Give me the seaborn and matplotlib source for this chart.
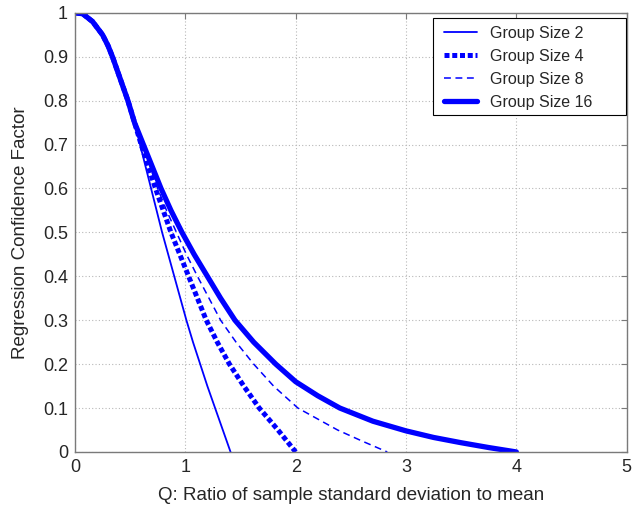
import pandas as pd
import seaborn as sns
import matplotlib.pyplot as plt
from matplotlib.patches import Rectangle

# values (Q, factor)
q_common = [0.0, 0.07, 0.16, 0.25, 0.30, 0.34, 0.41, 0.48, 0.54]
y_common = [1.0, 0.998, 0.98, 0.95, 0.925, 0.9, 0.85, 0.8, 0.75]

q_g2 = q_common + [0.59, 0.64, 0.69, 0.74, 0.79, 0.845, 0.90, 0.955, 1.01, 1.07,
                   1.135, 1.20, 1.27, 1.34, 1.41]
y_g2 = y_common + [0.7, 0.65, 0.6, 0.55, 0.5, 0.45, 0.4, 0.35, 0.3, 0.25,
                   0.2, 0.15, 0.1, 0.05, 0.0]

q_g4 = q_common + [0.60, 0.665, 0.73, 0.80, 0.87, 0.95, 1.03, 1.11, 1.19, 1.29,
                   1.40, 1.53, 1.67, 1.84, 2.0]
y_g4 = y_common + [0.7, 0.65, 0.6, 0.55, 0.5, 0.45, 0.4, 0.35, 0.3, 0.25,
                   0.2, 0.15, 0.1, 0.05, 0.0]

q_g8 = q_common + [0.61, 0.68, 0.75, 0.83, 0.92, 1.01, 1.11, 1.215, 1.32, 1.46,
                   1.62, 1.80, 2.02, 2.20, 2.38, 2.60, 2.83]
y_g8 = y_common + [0.7, 0.65, 0.6, 0.55, 0.5, 0.45, 0.4, 0.35, 0.3, 0.25,
                   0.2, 0.15, 0.1, 0.075, 0.05, 0.025, 0.0]

q_g16 = q_common + [0.62, 0.70, 0.78, 0.87, 0.97, 1.08, 1.20, 1.32, 1.45, 1.62,
                    1.82, 2.0, 2.2, 2.4, 2.7, 3.0, 3.25, 3.5, 3.75, 4.0]
y_g16 = y_common + [0.7, 0.65, 0.6, 0.55, 0.5, 0.45, 0.4, 0.35, 0.3, 0.25,
                    0.2, 0.16, 0.128, 0.1, 0.07, 0.048, 0.033, 0.021, 0.01, 0.0]

labels = ['Group Size 2', 'Group Size 4', 'Group Size 8', 'Group Size 16']

sns.set_style('white')
plt.rcParams['font.family'] = ['Liberation Sans', 'DejaVu Sans']

fig = plt.figure(figsize=(6.35, 5.13), dpi=100)
ax = fig.add_axes([0.118, 0.119, 0.869, 0.856])

blue = (0, 0, 1)
series = [
    (q_g2, y_g2, dict(linewidth=1.3, linestyle='-')),
    (q_g4, y_g4, dict(linewidth=3.6, linestyle=(0, (1.0, 0.55)))),
    (q_g8, y_g8, dict(linewidth=1.1, linestyle=(0, (4.5, 3.0)))),
    (q_g16, y_g16, dict(linewidth=3.8, linestyle='-')),
]
for (q, y, style), lab in zip(series, labels):
    df = pd.DataFrame({'Q': q, 'F': y})
    sns.lineplot(data=df, x='Q', y='F', ax=ax, color=blue, sort=False,
                 label=lab, solid_joinstyle='round', **style)

ax.set_xlim(0, 5)
ax.set_ylim(0, 1)
ax.set_xticks([0, 1, 2, 3, 4, 5])
ax.set_xticklabels(['0', '1', '2', '3', '4', '5'])
ax.set_yticks([i / 10 for i in range(11)])
ax.set_yticklabels(['0'] + ['0.%d' % i for i in range(1, 10)] + ['1'])
ax.grid(True, linestyle=(0, (1, 2)), color='#b8b8b8', linewidth=0.8)
for s in ax.spines.values():
    s.set_color('#7a7a7a')
    s.set_linewidth(1.0)
ax.tick_params(direction='in', length=4, color='#7a7a7a', labelsize=13,
               top=True, right=True, pad=5)

ax.set_xlabel('Q: Ratio of sample standard deviation to mean', fontsize=13.5, labelpad=8)
ax.set_ylabel('Regression Confidence Factor', fontsize=13.5, labelpad=10)

# MATLAB-like legend box with extra room on the right
box = Rectangle((0.649, 0.768), 0.349, 0.221, transform=ax.transAxes,
                facecolor='white', edgecolor='black', linewidth=0.8, zorder=4)
ax.add_patch(box)
leg = ax.legend(loc='upper left', bbox_to_anchor=(0.668, 0.971), fontsize=11.5,
                frameon=False, handlelength=2.1, handletextpad=0.8,
                borderpad=0, labelspacing=0.5, borderaxespad=0)
leg.set_zorder(5)

fig.savefig('out.png', dpi=100)
